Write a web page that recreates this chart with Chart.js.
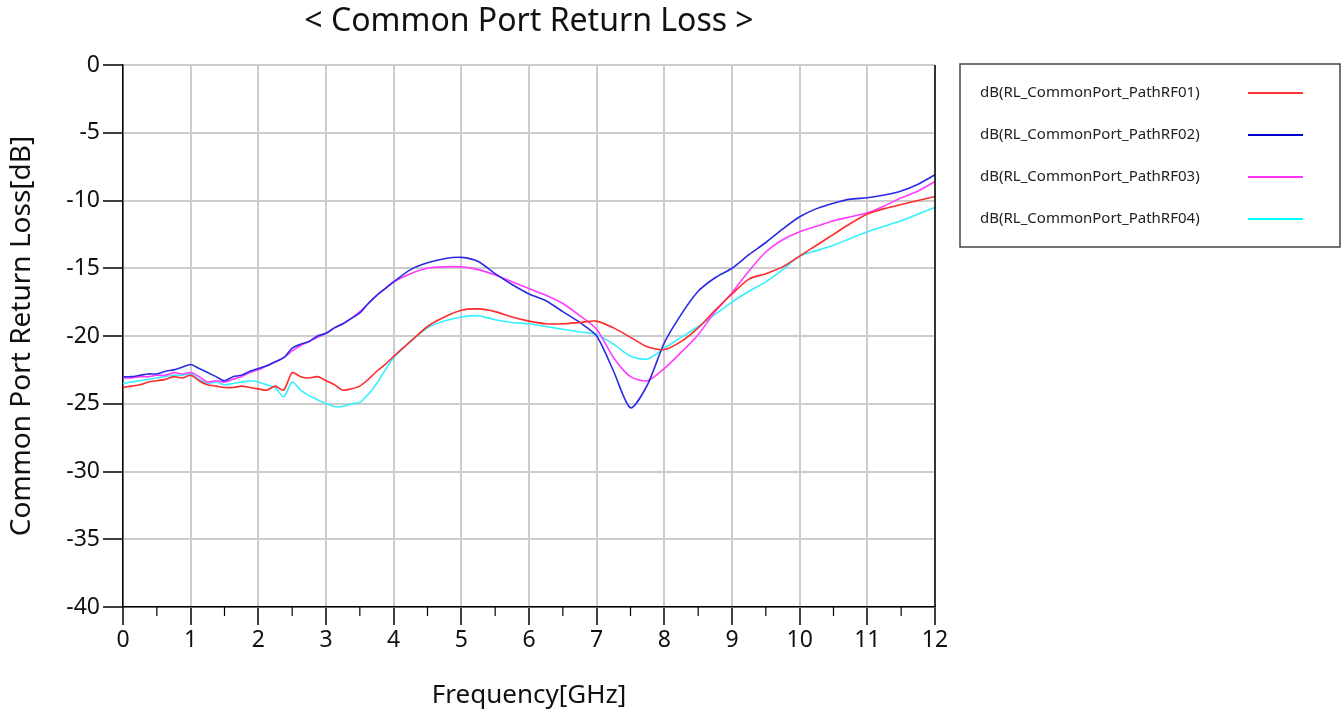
<!DOCTYPE html>
<html lang="en">
<head>
  <meta charset="UTF-8" />
  <title>Common Port Return Loss</title>
  <script src="https://cdn.jsdelivr.net/npm/chart.js"></script>
  <style>
    body { margin: 0; background: #fff; }
    #wrap { width: 1343px; height: 716px; position: relative; }
  </style>
</head>
<body>
  <div id="wrap"><canvas id="grafico"></canvas></div>

  <script>
    // frequency points (GHz): finer below 4 GHz where the traces ripple
    const freq = [
      0, 0.125, 0.25, 0.375, 0.5, 0.625, 0.75, 0.875, 1, 1.125, 1.25, 1.375, 1.5, 1.625, 1.75, 1.875,
      2, 2.125, 2.25, 2.375, 2.5, 2.625, 2.75, 2.875, 3, 3.125, 3.25, 3.375, 3.5, 3.625, 3.75, 3.875,
      4, 4.25, 4.5, 4.75, 5, 5.25, 5.5, 5.75, 6, 6.25, 6.5, 6.75, 7, 7.25, 7.5, 7.75,
      8, 8.25, 8.5, 8.75, 9, 9.25, 9.5, 9.75, 10, 10.25, 10.5, 10.75, 11, 11.25, 11.5, 11.75, 12
    ];

    const rf01 = [
      -23.8, -23.7, -23.6, -23.4, -23.3, -23.2, -23.0, -23.1, -22.9, -23.3, -23.6, -23.7, -23.8, -23.8, -23.7, -23.8,
      -23.9, -24.0, -23.7, -24.0, -22.7, -23.0, -23.1, -23.0, -23.3, -23.6, -24.0, -23.9, -23.7, -23.2, -22.6, -22.1,
      -21.5, -20.4, -19.3, -18.6, -18.1, -18.0, -18.2, -18.6, -18.9, -19.1, -19.1, -19.0, -18.9, -19.4, -20.1, -20.8,
      -21.0, -20.4, -19.4, -18.1, -16.9, -15.8, -15.4, -14.9, -14.1, -13.3, -12.5, -11.7, -11.0, -10.6, -10.3, -10.0, -9.7
    ];

    const rf02 = [
      -23.0, -23.0, -22.9, -22.8, -22.8, -22.6, -22.5, -22.3, -22.1, -22.4, -22.7, -23.0, -23.3, -23.0, -22.9, -22.6,
      -22.4, -22.2, -21.9, -21.6, -20.9, -20.6, -20.4, -20.0, -19.8, -19.4, -19.1, -18.7, -18.3, -17.6, -17.0, -16.5,
      -16.0, -15.1, -14.6, -14.3, -14.2, -14.5, -15.4, -16.2, -16.9, -17.4, -18.2, -19.0, -20.0, -22.6, -25.3, -23.6,
      -20.5, -18.4, -16.7, -15.7, -15.0, -14.0, -13.1, -12.1, -11.2, -10.6, -10.2, -9.9, -9.8, -9.6, -9.3, -8.8, -8.1
    ];

    const rf03 = [
      -23.1, -23.1, -23.0, -23.0, -22.9, -22.9, -22.7, -22.8, -22.7, -23.0, -23.4, -23.3, -23.4, -23.2, -23.0, -22.7,
      -22.5, -22.2, -21.9, -21.6, -21.1, -20.7, -20.4, -20.1, -19.8, -19.4, -19.1, -18.7, -18.2, -17.6, -17.0, -16.5,
      -16.0, -15.4, -15.0, -14.9, -14.9, -15.1, -15.5, -16.0, -16.5, -17.0, -17.6, -18.5, -19.5, -21.6, -23.0, -23.3,
      -22.4, -21.2, -19.9, -18.2, -16.8, -15.2, -13.8, -12.9, -12.3, -11.9, -11.5, -11.2, -10.9, -10.4, -9.8, -9.3, -8.6
    ];

    const rf04 = [
      -23.5, -23.4, -23.3, -23.2, -23.1, -23.0, -22.9, -22.9, -22.8, -23.2, -23.5, -23.4, -23.6, -23.5, -23.4, -23.3,
      -23.4, -23.6, -23.8, -24.5, -23.4, -24.0, -24.4, -24.7, -25.0, -25.2, -25.2, -25.0, -24.9, -24.3, -23.5, -22.5,
      -21.6, -20.4, -19.4, -18.9, -18.6, -18.5, -18.8, -19.0, -19.1, -19.3, -19.5, -19.7, -19.9, -20.6, -21.5, -21.7,
      -20.9, -20.1, -19.3, -18.4, -17.5, -16.7, -16.0, -15.1, -14.1, -13.7, -13.3, -12.8, -12.3, -11.9, -11.5, -11.0, -10.5
    ];

    const nomes = [
      'dB(RL_CommonPort_PathRF01)',
      'dB(RL_CommonPort_PathRF02)',
      'dB(RL_CommonPort_PathRF03)',
      'dB(RL_CommonPort_PathRF04)'
    ];
    const cores = ['#ff2a2a', '#2a2ae6', '#ff3cff', '#33f0ff'];
    const coresLegenda = ['#ff3333', '#0000cc', '#ff33ff', '#00ffff'];

    const serie = ys => freq.map((f, i) => ({ x: f, y: ys[i] }));
    const FONTE = "'Noto Sans', 'Open Sans', sans-serif";

    // title, legend box, right frame line and minor x ticks
    const extras = {
      id: 'extras',
      afterDraw(chart) {
        const ctx = chart.ctx;
        const a = chart.chartArea;
        const x = chart.scales.x;
        ctx.save();

        ctx.strokeStyle = '#000';
        ctx.lineWidth = 1.5;
        ctx.beginPath();
        ctx.moveTo(a.right, a.top);
        ctx.lineTo(a.right, a.bottom);
        ctx.stroke();

        ctx.lineWidth = 1.2;
        for (let v = 0.5; v < 12; v += 1) {
          const px = x.getPixelForValue(v);
          ctx.beginPath();
          ctx.moveTo(px, a.bottom);
          ctx.lineTo(px, a.bottom + 9);
          ctx.stroke();
        }

        ctx.fillStyle = '#111';
        ctx.font = '32px ' + FONTE;
        ctx.textAlign = 'center';
        ctx.textBaseline = 'middle';
        ctx.fillText('< Common Port Return Loss >', (a.left + a.right) / 2, 22);

        ctx.strokeStyle = '#444';
        ctx.lineWidth = 1.5;
        ctx.strokeRect(960, 64, 380, 183);
        ctx.font = '15px ' + FONTE;
        ctx.textAlign = 'left';
        const linhas = [93, 135, 177, 219];
        nomes.forEach((n, i) => {
          ctx.fillStyle = '#222';
          ctx.fillText(n, 980, linhas[i]);
          ctx.strokeStyle = coresLegenda[i];
          ctx.lineWidth = 1.8;
          ctx.beginPath();
          ctx.moveTo(1248, linhas[i]);
          ctx.lineTo(1303, linhas[i]);
          ctx.stroke();
        });
        ctx.restore();
      }
    };

    new Chart(document.getElementById('grafico'), {
      type: 'line',
      data: {
        datasets: [rf01, rf02, rf03, rf04].map((d, i) => ({
          label: nomes[i],
          data: serie(d),
          borderColor: cores[i],
          borderWidth: 1.6,
          pointRadius: 0,
          tension: 0.25,
          fill: false
        }))
      },
      options: {
        responsive: true,
        maintainAspectRatio: false,
        animation: false,
        layout: { padding: { left: 0, right: 408, top: 65, bottom: 0 } },
        plugins: { legend: { display: false }, title: { display: false }, tooltip: { enabled: false } },
        scales: {
          x: {
            type: 'linear', min: 0, max: 12,
            afterFit: s => { s.height = 109; },
            ticks: { stepSize: 1, color: '#111', padding: 2, font: { size: 23, family: FONTE } },
            grid: { color: '#cccccc', lineWidth: 2, tickColor: '#000', tickLength: 18, tickWidth: 1.5 },
            border: { color: '#000', width: 1.5 },
            title: { display: true, text: 'Frequency[GHz]', color: '#111', font: { size: 26, family: FONTE }, padding: { top: 0, bottom: 5 } }
          },
          y: {
            min: -40, max: 0,
            afterFit: s => { s.width = 123; },
            ticks: { stepSize: 5, color: '#111', padding: 3, font: { size: 23, family: FONTE } },
            grid: { color: '#cccccc', lineWidth: 2, tickColor: '#000', tickLength: 20, tickWidth: 1.5 },
            border: { color: '#000', width: 1.5 },
            title: { display: true, text: 'Common Port Return Loss[dB]', color: '#111', font: { size: 28, family: FONTE }, padding: { top: 5, bottom: 0 } }
          }
        }
      },
      plugins: [extras]
    });
  </script>
</body>
</html>
